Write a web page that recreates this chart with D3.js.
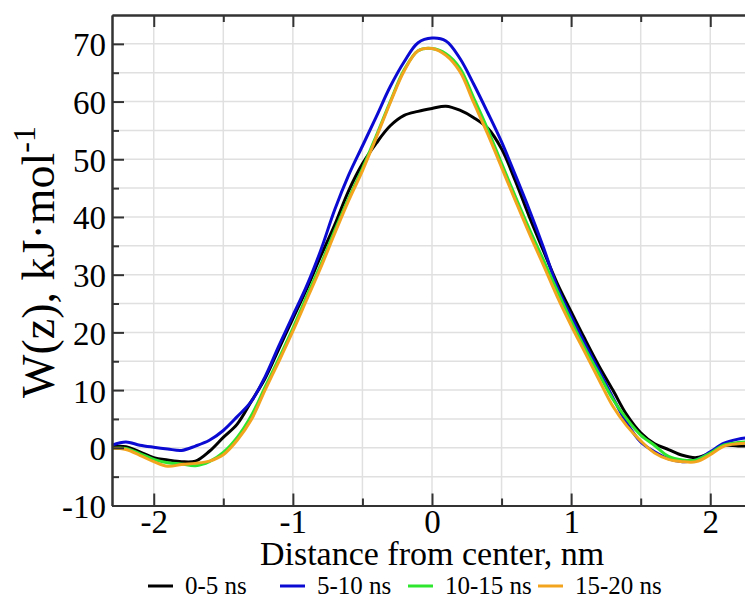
<!DOCTYPE html>
<html>
<head>
<meta charset="utf-8">
<script src="https://cdn.jsdelivr.net/npm/d3@7"></script>
<style>
html,body{margin:0;padding:0;background:#fff;overflow:hidden;}
svg{display:block;font-family:"Liberation Serif","Times New Roman",serif;}
</style>
</head>
<body>
<svg id="chart" width="745" height="599"></svg>
<script>
const distance = [-2.3,-2.2,-2.1,-2.0,-1.9,-1.8,-1.7,-1.6,-1.5,-1.4,-1.3,-1.2,-1.1,-1.0,-0.9,-0.8,-0.7,-0.6,-0.5,-0.4,-0.3,-0.2,-0.1,0.0,0.1,0.2,0.3,0.4,0.5,0.6,0.7,0.8,0.9,1.0,1.1,1.2,1.3,1.4,1.5,1.6,1.7,1.8,1.9,2.0,2.1,2.2,2.3];

const w0_5 = [0.2,0.2,-0.7,-1.7,-2.1,-2.4,-2.3,-0.6,1.8,4.1,8.0,12.0,17.2,22.4,27.6,33.2,38.6,44.5,49.2,52.8,55.8,57.6,58.3,58.8,59.2,58.5,57.2,55.4,51.8,46.2,40.0,34.2,28.5,23.6,18.8,14.2,10.0,5.7,2.6,0.7,-0.3,-1.3,-1.7,-0.9,0.4,0.3,0.3];
const w5_10 = [0.45,1.0,0.45,0.1,-0.2,-0.45,0.3,1.3,3.0,5.4,8.0,12.3,17.7,22.9,28.1,34.2,41.2,47.2,52.3,57.4,62.6,66.9,70.2,71.0,70.5,67.5,63.0,58.1,53.0,47.2,41.2,34.8,27.9,22.8,18.0,13.4,8.7,4.3,1.0,-0.7,-1.9,-2.4,-2.1,-0.7,0.8,1.5,1.8];
const w10_15 = [-0.1,-0.1,-1.0,-2.0,-2.6,-2.8,-3.1,-2.4,-0.8,1.8,5.5,10.5,15.5,20.7,26.3,31.7,37.6,43.2,48.4,54.1,60.0,65.5,68.8,69.2,68.3,65.8,60.6,55.2,49.3,43.5,37.9,32.6,27.2,22.0,17.2,12.8,8.4,5.0,2.2,0.4,-1.5,-2.1,-2.1,-0.9,0.5,0.9,1.1];
const w15_20 = [-0.1,-0.3,-1.3,-2.4,-3.2,-2.9,-2.7,-2.3,-1.2,1.3,4.8,10.0,15.0,20.2,25.7,31.2,37.1,42.8,48.0,53.8,59.8,65.3,68.8,69.2,68.0,65.2,59.8,54.4,48.6,42.8,37.1,31.7,26.2,21.2,16.5,11.8,7.2,3.8,1.2,-0.9,-2.0,-2.4,-2.4,-1.2,0.3,0.7,0.8];

const seriesNames = ["0-5 ns","5-10 ns","10-15 ns","15-20 ns"];
const seriesColors = ["#000000","#0a0ad2","#2ee62e","#f2a41f"];
const seriesValues = [w0_5, w5_10, w10_15, w15_20];

const xMajor = [-2,-1,0,1,2];
const xMinor = [-1.5,-0.5,0.5,1.5];
const xGrid = [-2,-1.5,-1,-0.5,0,0.5,1,1.5,2];
const yMajor = [-10,0,10,20,30,40,50,60,70];
const yMinor = [-5,5,15,25,35,45,55,65];
const yGrid = [-5,0,5,10,15,20,25,30,35,40,45,50,55,60,65,70];

const FONT = "Liberation Serif, Times New Roman, serif";
const svg = d3.select("#chart");
const x = d3.scaleLinear().domain([-2.3, 2.3]).range([112, 752]);
const y = d3.scaleLinear().domain([-10, 75]).range([505.5, 15]);

// grid
const grid = svg.append("g");
grid.selectAll("line.gx").data(xGrid).enter().append("line")
  .attr("x1", d => x(d)).attr("x2", d => x(d))
  .attr("y1", y(75)).attr("y2", y(-10))
  .attr("stroke", "#e0e0e0").attr("stroke-width", 1.5);
grid.selectAll("line.gy").data(yGrid).enter().append("line")
  .attr("x1", x(-2.3)).attr("x2", x(2.3))
  .attr("y1", d => y(d)).attr("y2", d => y(d))
  .attr("stroke", "#e0e0e0").attr("stroke-width", 1.5);

// curves
const line = d3.line().curve(d3.curveCatmullRom.alpha(0.5))
  .x((d, i) => x(distance[i])).y(d => y(d));
seriesValues.forEach((vals, k) => {
  svg.append("path").datum(vals)
    .attr("d", line)
    .attr("fill", "none")
    .attr("stroke", seriesColors[k])
    .attr("stroke-width", 3)
    .attr("stroke-linejoin", "round");
});

// axes
const axisColor = "#333";
function styleAxis(g) {
  g.attr("font-family", FONT);
  g.selectAll("path.domain").attr("stroke", axisColor).attr("stroke-width", 2);
  g.selectAll(".tick line").attr("stroke", axisColor).attr("stroke-width", 2);
  g.selectAll("text").attr("fill", "#000").attr("font-size", 33)
    .attr("font-family", FONT);
}

const gLeft = svg.append("g").attr("transform", `translate(${x(-2.3)},0)`)
  .call(d3.axisLeft(y).tickValues(yMajor).tickSize(-12).tickSizeOuter(0).tickPadding(6).tickFormat(d => String(d)));
styleAxis(gLeft);
gLeft.selectAll("text").attr("dy", "12");
const gLeftMinor = svg.append("g").attr("transform", `translate(${x(-2.3)},0)`)
  .call(d3.axisLeft(y).tickValues(yMinor).tickSize(-7).tickSizeOuter(0).tickFormat(""));
styleAxis(gLeftMinor);

const gBottom = svg.append("g").attr("transform", `translate(0,${y(-10)})`)
  .call(d3.axisBottom(x).tickValues(xMajor).tickSize(-12).tickSizeOuter(0).tickPadding(6).tickFormat(d => String(d)));
styleAxis(gBottom);
gBottom.selectAll("text").attr("y", 27.5).attr("dy", 0);
const gBottomMinor = svg.append("g").attr("transform", `translate(0,${y(-10)})`)
  .call(d3.axisBottom(x).tickValues(xMinor).tickSize(-7).tickSizeOuter(0).tickFormat(""));
styleAxis(gBottomMinor);

const gTop = svg.append("g").attr("transform", `translate(0,${y(75)})`)
  .call(d3.axisTop(x).tickValues(xMajor).tickSize(-12).tickSizeOuter(0).tickFormat(""));
styleAxis(gTop);
const gTopMinor = svg.append("g").attr("transform", `translate(0,${y(75)})`)
  .call(d3.axisTop(x).tickValues(xMinor).tickSize(-7).tickSizeOuter(0).tickFormat(""));
styleAxis(gTopMinor);

// axis titles
svg.append("text").attr("x", x(0)).attr("y", 565)
  .attr("text-anchor", "middle").attr("font-size", 34).attr("font-family", FONT)
  .text("Distance from center, nm");

const yt = svg.append("text")
  .attr("transform", `translate(54,262) rotate(-90)`)
  .attr("text-anchor", "middle").attr("font-size", 46).attr("font-family", FONT);
yt.append("tspan").text("W(z), kJ\u00B7mol");
yt.append("tspan").attr("dy", -19).attr("font-size", 32).text("-1");

// legend
const legendLineX = [148, 280, 408, 538];
const leg = svg.append("g").attr("font-family", FONT);
seriesNames.forEach((name, k) => {
  leg.append("line")
    .attr("x1", legendLineX[k]).attr("x2", legendLineX[k] + 25)
    .attr("y1", 586).attr("y2", 586)
    .attr("stroke", seriesColors[k]).attr("stroke-width", 3);
  leg.append("text")
    .attr("x", legendLineX[k] + 37).attr("y", 594)
    .attr("font-size", 25).text(name);
});
</script>
</body>
</html>
